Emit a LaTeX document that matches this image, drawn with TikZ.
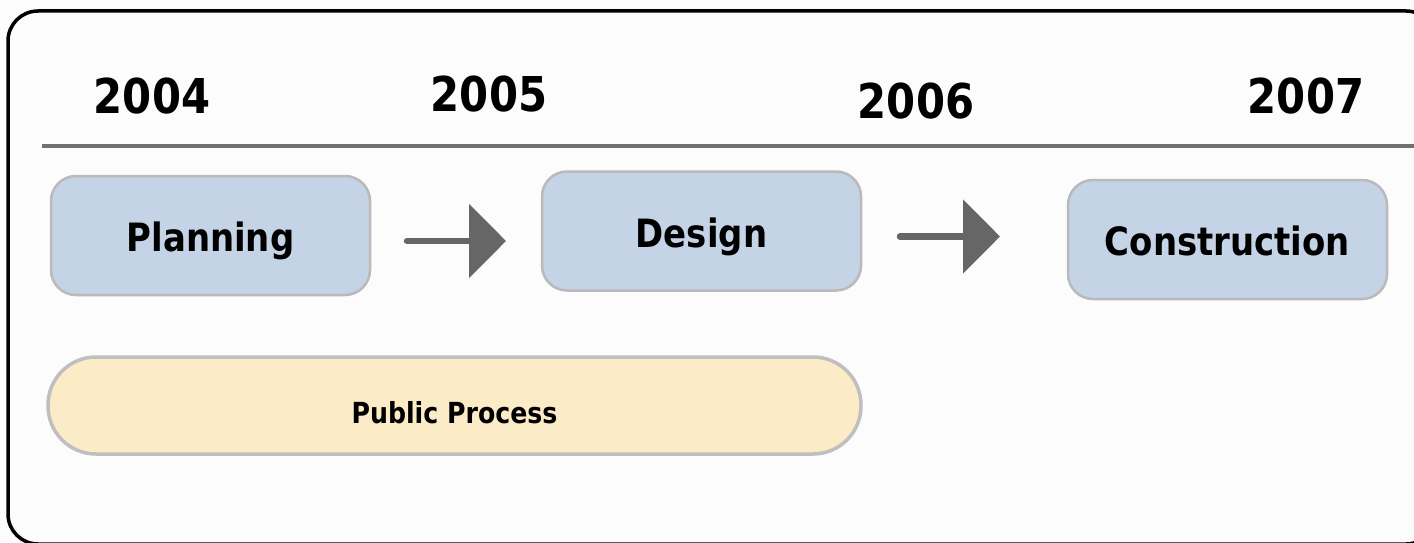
\documentclass[tikz,border=0pt]{standalone}
\usepackage{fontspec}
\usetikzlibrary{arrows.meta}
\newfontfamily\tfont{DejaVu Sans}[FakeStretch=0.87]
\definecolor{boxblue}{HTML}{C5D3E7}
\definecolor{boxedge}{HTML}{BABABA}
\definecolor{pubfill}{HTML}{FBEBC6}
\definecolor{pubedge}{HTML}{BFBFBF}
\definecolor{arrowgray}{HTML}{666666}
\definecolor{rulegray}{HTML}{707070}
\tikzset{
  year/.style={inner sep=0pt, anchor=center, font=\tfont\bfseries\fontsize{48}{50}\selectfont},
  phase/.style={draw=boxedge, line width=2.5pt, fill=boxblue, rounded corners=25pt,
    minimum width=319pt, minimum height=119pt, inner sep=0pt,
    text height=32pt, text depth=0pt,
    font=\tfont\bfseries\fontsize{39}{41}\selectfont},
  pubbox/.style={draw=pubedge, line width=3.5pt, fill=pubfill, rounded corners=48pt,
    minimum width=813pt, minimum height=97pt, inner sep=0pt,
    text height=35pt, text depth=0pt,
    font=\tfont\bfseries\fontsize{29}{31}\selectfont},
  flow/.style={draw=arrowgray, line width=6.5pt, line cap=round,
    -{Triangle[length=37pt,width=73pt]}, arrowgray},
}
\begin{document}
\begin{tikzpicture}[x=1pt,y=-1pt]
\useasboundingbox (0,0) rectangle (1414,543);
\clip (0,0) rectangle (1414,543);
\fill[white!99!black] (0,0) rectangle (1414,543);
% outer frame
\draw[black, line width=3.5pt, rounded corners=30pt] (8,11) rectangle (1436,544);
% timeline rule
\coordinate (ruleL) at (42,146);
\coordinate (ruleR) at (1420,146);
\draw[rulegray, line width=3.5pt] (ruleL) -- (ruleR);
% years
\node[year] (y2004) at (152,96) {2004};
\node[year] (y2005) at (489,94) {2005};
\node[year] (y2006) at (916,101) {2006};
\node[year] (y2007) at (1306,96) {2007};
% phases
\node[phase] (planning) at (210.5,235.5) {Planning};
\node[phase] (design) at (701.5,231) {Design};
\node[phase] (construction) at (1227.5,239.5) {Construction};
% arrows
\coordinate (a1s) at (407,241);
\coordinate (a1e) at (506,241);
\coordinate (a2s) at (900,236.5);
\coordinate (a2e) at (1000,236.5);
\draw[flow] (a1s) -- (a1e);
\draw[flow] (a2s) -- (a2e);
% public process
\node[pubbox] (public) at (454.5,405.5) {Public Process};
\end{tikzpicture}
\end{document}
